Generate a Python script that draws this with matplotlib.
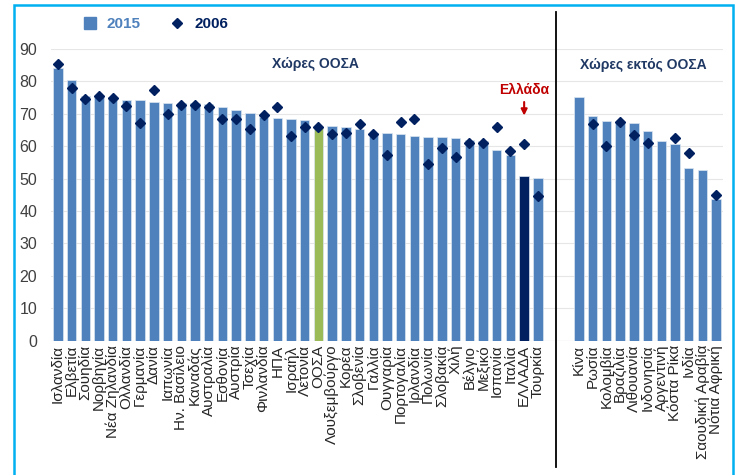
import numpy as np
import matplotlib.pyplot as plt
from matplotlib.lines import Line2D
from matplotlib.patches import Rectangle

plt.rcParams['font.family'] = ['Liberation Sans', 'DejaVu Sans']

oecd = ['Ισλανδία', 'Ελβετία', 'Σουηδία', 'Νορβηγία', 'Νέα Ζηλανδία', 'Ολλανδία',
        'Γερμανία', 'Δανία', 'Ιαπωνία', 'Ην. Βασίλειο', 'Καναδάς', 'Αυστραλία',
        'Εσθονία', 'Αυστρία', 'Τσεχία', 'Φινλανδία', 'ΗΠΑ', 'Ισραήλ', 'Λετονία',
        'ΟΟΣΑ', 'Λουξεμβούργο', 'Κορέα', 'Σλοβενία', 'Γαλλία', 'Ουγγαρία',
        'Πορτογαλία', 'Ιρλανδία', 'Πολωνία', 'Σλοβακία', 'Χιλή', 'Βέλγιο',
        'Μεξικό', 'Ισπανία', 'Ιταλία', 'ΕΛΛΑΔΑ', 'Τουρκία']
oecd_2015 = [84.2, 80.4, 75.6, 75.1, 75.2, 74.3, 74.3, 73.5, 73.3, 73.2, 73.2, 73.0,
             72.0, 71.2, 70.2, 68.9, 68.7, 68.4, 68.1, 65.7, 66.2, 65.8, 65.2, 64.1,
             64.0, 63.9, 63.2, 63.0, 62.7, 62.4, 61.9, 61.5, 58.8, 57.3, 50.7, 50.2]
oecd_2006 = [85.5, 78.1, 74.6, 75.4, 74.8, 72.4, 67.3, 77.3, 69.9, 72.7, 72.7, 72.2,
             68.3, 68.5, 65.4, 69.6, 72.1, 63.2, 66.0, 66.0, 63.7, 64.0, 66.8, 63.8,
             57.3, 67.6, 68.5, 54.5, 59.3, 56.8, 61.0, 61.0, 66.0, 58.4, 60.6, 44.5]

non_oecd = ['Κίνα', 'Ρωσία', 'Κολομβία', 'Βραζιλία', 'Λιθουανία', 'Ινδονησία',
            'Αργεντινή', 'Κόστα Ρίκα', 'Ινδία', 'Σαουδική Αραβία', 'Νότια Αφρική']
non_2015 = [75.1, 69.3, 67.7, 67.3, 67.3, 64.6, 61.7, 60.7, 53.3, 52.6, 43.6]
non_2006 = [np.nan, 66.8, 60.2, 67.4, 63.6, 60.9, np.nan, 62.4, 58.0, np.nan, 44.9]

blue = '#4F81BD'
navy = '#002060'

x1 = np.arange(len(oecd))
x2 = np.arange(len(non_oecd)) + len(oecd) + 2
colors = [blue] * len(oecd)
colors[oecd.index('ΟΟΣΑ')] = '#9BBB59'
colors[oecd.index('ΕΛΛΑΔΑ')] = navy

fig = plt.figure(figsize=(7.38, 4.75), dpi=100)
ax = fig.add_axes([0.0691, 0.2829, 0.9106, 0.6139])

ax.bar(x1, oecd_2015, width=0.68, color=colors, edgecolor='#DCE6F2', linewidth=0.5, zorder=2)
ax.bar(x2, non_2015, width=0.68, color=blue, edgecolor='#DCE6F2', linewidth=0.5, zorder=2)
ax.plot(x1, oecd_2006, 'D', color=navy, markersize=5.5, zorder=3)
ax.plot(x2, non_2006, 'D', color=navy, markersize=5.5, zorder=3)

ax.set_xlim(-0.5, x2[-1] + 0.5)
ax.set_ylim(0, 90)
ax.set_yticks(range(0, 91, 10))
ax.set_xticks(list(x1) + list(x2))
ax.set_xticklabels(oecd + non_oecd, rotation=90, fontsize=11, color='#262626')
ax.tick_params(axis='y', labelsize=11.5, colors='#404040', length=0, pad=10)
ax.tick_params(axis='x', length=0, pad=3)
ax.grid(axis='y', color='#E6E6E6', linewidth=0.8, zorder=0)
for s in ax.spines.values():
    s.set_visible(False)
ax.axhline(0, color='#D9D9D9', linewidth=0.8, zorder=1)

# separator between groups
ax.plot([36.3, 36.3], [-39, 101.5], color='black', linewidth=1.3, clip_on=False)

ax.text(18.8, 85.4, 'Χώρες ΟΟΣΑ', ha='center', va='center', fontsize=10,
        fontweight='bold', color='#1F3864')
ax.text(42.7, 85.0, 'Χώρες εκτός ΟΟΣΑ', ha='center', va='center', fontsize=10,
        fontweight='bold', color='#1F3864')
gr = oecd.index('ΕΛΛΑΔΑ')
ax.text(gr, 77.2, 'Ελλάδα', ha='center', va='center', fontsize=10,
        fontweight='bold', color='#C00000')
ax.annotate('', xy=(gr, 68.6), xytext=(gr, 74.5),
            arrowprops=dict(arrowstyle='-|>', color='#C00000', lw=1.5, mutation_scale=9))

handles = [Line2D([], [], marker='s', color=blue, linestyle='', markersize=8),
           Line2D([], [], marker='D', color=navy, linestyle='', markersize=5)]
fig.legend(handles, ['2015', '2006'], ncol=2, frameon=False, loc='center',
           bbox_to_anchor=(0.205, 0.949), handletextpad=0.1, columnspacing=1.4,
           prop={'size': 11, 'weight': 'bold'}, labelcolor=[blue, navy])

fig.patches.append(Rectangle((14 / 738, -0.05), (733 - 14) / 738, 1.05 - 5 / 475,
                             transform=fig.transFigure, fill=False,
                             edgecolor='#00B0F0', linewidth=1.8))

fig.savefig('out.png', dpi=100)
